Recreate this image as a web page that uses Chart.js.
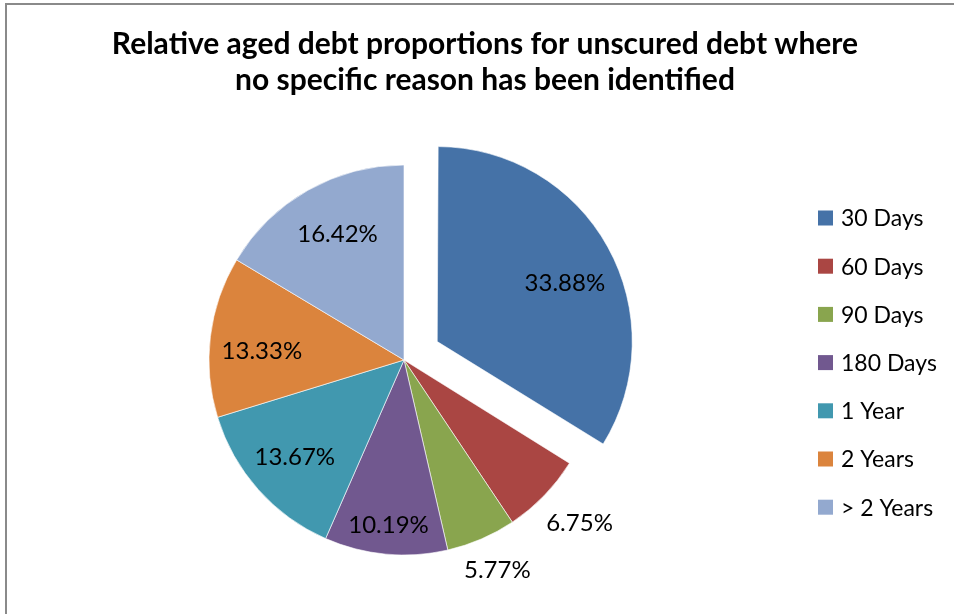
<!DOCTYPE html>
<html>
<head>
<meta charset="utf-8">
<script src="https://cdn.jsdelivr.net/npm/chart.js@4.4.1/dist/chart.umd.min.js"></script>
<style>
  html, body { margin: 0; padding: 0; background: #fff; }
  #wrap { position: relative; width: 954px; height: 614px; }
</style>
</head>
<body>
<div id="wrap"><canvas id="debtChart" width="954" height="614"></canvas></div>
<script>
// aged debt buckets and their share of the total (%)
const titleLines = [
  "Relative aged debt proportions for unscured debt where",
  "no specific reason has been identified"
];
const categories = ["30 Days", "60 Days", "90 Days", "180 Days", "1 Year", "2 Years", "> 2 Years"];
const shares = [33.88, 6.75, 5.77, 10.19, 13.67, 13.33, 16.42];
const sliceColors = ["#4572A7", "#AA4643", "#89A54E", "#71588F", "#4198AF", "#DB843D", "#93A9CF"];

const FONT = "Lato, 'Liberation Sans', sans-serif";
const PIE_RADIUS = 195;

// frame, title, value labels and legend drawn straight onto the canvas
const pieDecor = {
  id: "pieDecor",
  afterDatasetsUpdate(chart) {
    // keep the pulled-out slice the same size as the others
    chart.getDatasetMeta(0).data.forEach(arc => {
      const shift = (arc.options.offset || 0) / 4;
      if (!shift) return;
      const circ = arc.endAngle - arc.startAngle;
      const fix = 1 - Math.sin(Math.min(Math.PI, circ));
      arc.outerRadius = PIE_RADIUS - shift * fix;
    });
  },
  beforeDraw(chart) {
    const ctx = chart.ctx;
    ctx.save();
    ctx.strokeStyle = "#8a8a8a";
    ctx.lineWidth = 2;
    ctx.strokeRect(6, 4, 1000, 1000);

    ctx.fillStyle = "#000";
    ctx.font = "bold 30px " + FONT;
    ctx.textAlign = "center";
    ctx.textBaseline = "alphabetic";
    ctx.fillText(titleLines[0], 485, 54);
    ctx.fillText(titleLines[1], 485, 90);
    ctx.restore();
  },
  afterDraw(chart, args, opts) {
    const ctx = chart.ctx;
    const meta = chart.getDatasetMeta(0);
    ctx.save();
    ctx.fillStyle = "#000";
    ctx.font = "24px " + FONT;
    ctx.textAlign = "center";
    ctx.textBaseline = "middle";
    meta.data.forEach((arc, i) => {
      const p = arc.getProps(["x", "y", "startAngle", "endAngle"], true);
      const mid = (p.startAngle + p.endAngle) / 2 + opts.labelTurn[i];
      const shift = (arc.options.offset || 0) / 4;
      const r = shift + PIE_RADIUS * opts.labelRadius[i];
      const x = p.x + Math.cos(mid) * r;
      const y = p.y + Math.sin(mid) * r;
      ctx.fillText(shares[i].toFixed(2) + "%", x, y);
    });

    // legend on the right
    ctx.font = "23px " + FONT;
    ctx.textAlign = "left";
    categories.forEach((name, i) => {
      const cy = 218 + i * 48.2;
      ctx.fillStyle = sliceColors[i];
      ctx.fillRect(818, cy - 7.5, 15, 15);
      ctx.fillStyle = "#000";
      ctx.fillText(name, 841, cy + 1);
    });
    ctx.restore();
  }
};

const ctx = document.getElementById("debtChart").getContext("2d");
const debtChart = new Chart(ctx, {
  type: "pie",
  data: {
    labels: categories,
    datasets: [{
      data: shares,
      backgroundColor: sliceColors,
      borderColor: "rgba(255,255,255,0.6)",
      borderWidth: 1,
      offset: [152, 0, 0, 0, 0, 0, 0]
    }]
  },
  options: {
    responsive: false,
    animation: false,
    radius: PIE_RADIUS,
    layout: {
      padding: { left: 200, right: 346, top: 150, bottom: 44 }
    },
    plugins: {
      legend: { display: false },
      title: { display: false },
      tooltip: { enabled: false },
      pieDecor: {
        labelRadius: [0.72, 1.23, 1.18, 0.85, 0.75, 0.73, 0.73],
        labelTurn: [0.06, -0.02, -0.01, 0.0, 0.0, -0.06, 0.03]
      }
    }
  },
  plugins: [pieDecor]
});
</script>
</body>
</html>
